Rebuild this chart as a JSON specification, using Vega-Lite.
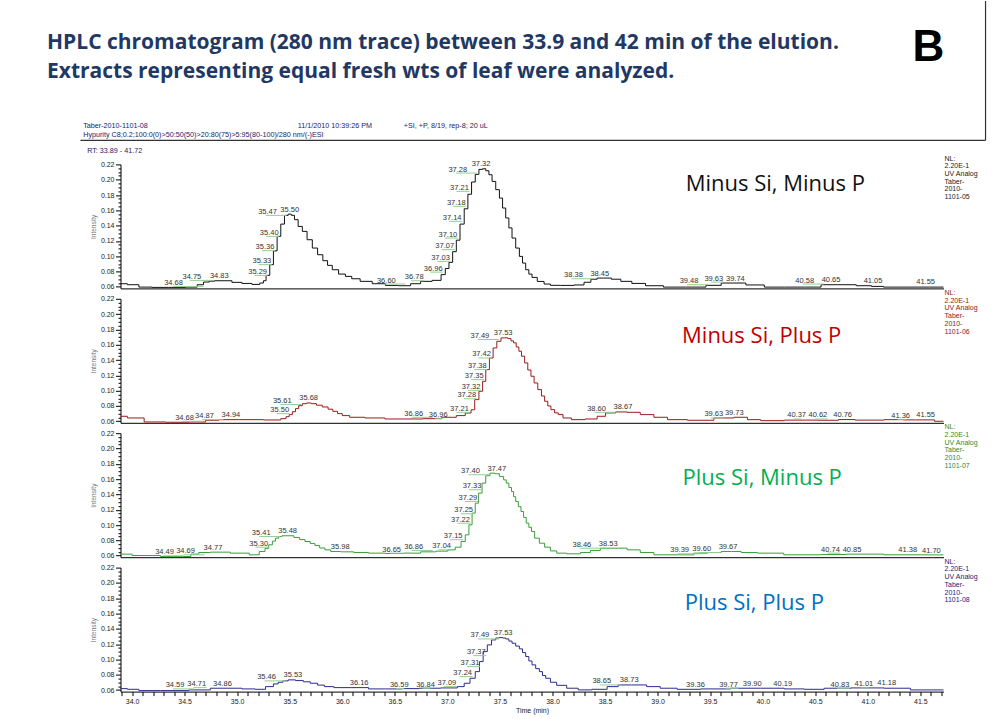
{
  "$schema": "https://vega.github.io/schema/vega-lite/v6.json",
  "padding": {"left": 46.5, "top": 0, "right": 4, "bottom": 6},
  "background": "#ffffff",
  "config": {
    "view": {"stroke": null},
    "text": {"baseline": "alphabetic"},
    "axis": {
      "grid": false,
      "labelFont": "Liberation Sans",
      "labelFontSize": 7,
      "labelColor": "#222222",
      "titleFont": "Liberation Sans",
      "titleFontWeight": "normal",
      "domainColor": "#000000",
      "tickColor": "#000000",
      "tickCount": 500
    }
  },
  "bounds": "flush",
  "spacing": 10.4,
  "resolve": {"scale": {"x": "independent", "y": "independent"}},
  "datasets": {
    "trace": [
      {"p":1,"t":33.89,"v":0.0641},{"p":1,"t":34.02,"v":0.0628},{"p":1,"t":34.11,"v":0.0597},{"p":1,"t":34.27,"v":0.0593},{"p":1,"t":34.43,"v":0.0593},{"p":1,"t":34.59,"v":0.0597},{"p":1,"t":34.65,"v":0.0628},{"p":1,"t":34.71,"v":0.0663},{"p":1,"t":34.76,"v":0.0675},{"p":1,"t":34.81,"v":0.068},{"p":1,"t":34.9,"v":0.068},{"p":1,"t":35.0,"v":0.0659},{"p":1,"t":35.09,"v":0.0645},{"p":1,"t":35.19,"v":0.0632},{"p":1,"t":35.24,"v":0.065},{"p":1,"t":35.26,"v":0.068},{"p":1,"t":35.29,"v":0.075},{"p":1,"t":35.33,"v":0.089},{"p":1,"t":35.36,"v":0.107},{"p":1,"t":35.4,"v":0.126},{"p":1,"t":35.43,"v":0.142},{"p":1,"t":35.47,"v":0.1534},{"p":1,"t":35.5,"v":0.155},{"p":1,"t":35.53,"v":0.1535},{"p":1,"t":35.56,"v":0.1478},{"p":1,"t":35.6,"v":0.139},{"p":1,"t":35.64,"v":0.1325},{"p":1,"t":35.69,"v":0.1216},{"p":1,"t":35.74,"v":0.1107},{"p":1,"t":35.79,"v":0.102},{"p":1,"t":35.84,"v":0.0942},{"p":1,"t":35.88,"v":0.0881},{"p":1,"t":35.93,"v":0.0824},{"p":1,"t":36.0,"v":0.0767},{"p":1,"t":36.06,"v":0.0737},{"p":1,"t":36.12,"v":0.0706},{"p":1,"t":36.22,"v":0.0672},{"p":1,"t":36.35,"v":0.0641},{"p":1,"t":36.47,"v":0.0619},{"p":1,"t":36.6,"v":0.0615},{"p":1,"t":36.7,"v":0.0641},{"p":1,"t":36.79,"v":0.0672},{"p":1,"t":36.92,"v":0.0685},{"p":1,"t":36.96,"v":0.076},{"p":1,"t":37.0,"v":0.084},{"p":1,"t":37.03,"v":0.092},{"p":1,"t":37.07,"v":0.106},{"p":1,"t":37.1,"v":0.121},{"p":1,"t":37.14,"v":0.142},{"p":1,"t":37.18,"v":0.162},{"p":1,"t":37.21,"v":0.181},{"p":1,"t":37.25,"v":0.197},{"p":1,"t":37.28,"v":0.207},{"p":1,"t":37.32,"v":0.2135},{"p":1,"t":37.35,"v":0.2143},{"p":1,"t":37.38,"v":0.2117},{"p":1,"t":37.41,"v":0.2065},{"p":1,"t":37.44,"v":0.1978},{"p":1,"t":37.48,"v":0.187},{"p":1,"t":37.51,"v":0.176},{"p":1,"t":37.54,"v":0.163},{"p":1,"t":37.57,"v":0.15},{"p":1,"t":37.6,"v":0.137},{"p":1,"t":37.63,"v":0.1238},{"p":1,"t":37.67,"v":0.1107},{"p":1,"t":37.7,"v":0.0998},{"p":1,"t":37.73,"v":0.0911},{"p":1,"t":37.76,"v":0.0824},{"p":1,"t":37.79,"v":0.0767},{"p":1,"t":37.82,"v":0.0724},{"p":1,"t":37.89,"v":0.0671},{"p":1,"t":37.95,"v":0.0637},{"p":1,"t":38.01,"v":0.062},{"p":1,"t":38.14,"v":0.0619},{"p":1,"t":38.27,"v":0.0625},{"p":1,"t":38.33,"v":0.066},{"p":1,"t":38.4,"v":0.07},{"p":1,"t":38.45,"v":0.0715},{"p":1,"t":38.52,"v":0.0715},{"p":1,"t":38.6,"v":0.07},{"p":1,"t":38.7,"v":0.0672},{"p":1,"t":38.81,"v":0.0645},{"p":1,"t":38.96,"v":0.0615},{"p":1,"t":39.15,"v":0.0597},{"p":1,"t":39.38,"v":0.0597},{"p":1,"t":39.54,"v":0.062},{"p":1,"t":39.67,"v":0.065},{"p":1,"t":39.76,"v":0.065},{"p":1,"t":39.92,"v":0.0625},{"p":1,"t":40.11,"v":0.0597},{"p":1,"t":40.3,"v":0.0597},{"p":1,"t":40.49,"v":0.0597},{"p":1,"t":40.62,"v":0.0628},{"p":1,"t":40.81,"v":0.0628},{"p":1,"t":40.97,"v":0.0615},{"p":1,"t":41.1,"v":0.0606},{"p":1,"t":41.2,"v":0.0597},{"p":1,"t":41.45,"v":0.0597},{"p":1,"t":41.72,"v":0.0597},

      {"p":2,"t":33.89,"v":0.0665},{"p":2,"t":34.02,"v":0.0643},{"p":2,"t":34.21,"v":0.0591},{"p":2,"t":34.43,"v":0.0587},{"p":2,"t":34.65,"v":0.0591},{"p":2,"t":34.75,"v":0.0613},{"p":2,"t":34.9,"v":0.0621},{"p":2,"t":35.12,"v":0.0621},{"p":2,"t":35.38,"v":0.0617},{"p":2,"t":35.45,"v":0.0634},{"p":2,"t":35.48,"v":0.066},{"p":2,"t":35.51,"v":0.0687},{"p":2,"t":35.54,"v":0.0725},{"p":2,"t":35.57,"v":0.0765},{"p":2,"t":35.6,"v":0.0804},{"p":2,"t":35.64,"v":0.083},{"p":2,"t":35.68,"v":0.0839},{"p":2,"t":35.73,"v":0.083},{"p":2,"t":35.78,"v":0.081},{"p":2,"t":35.84,"v":0.0787},{"p":2,"t":35.89,"v":0.0758},{"p":2,"t":35.93,"v":0.073},{"p":2,"t":35.98,"v":0.07},{"p":2,"t":36.02,"v":0.0674},{"p":2,"t":36.12,"v":0.0652},{"p":2,"t":36.31,"v":0.0643},{"p":2,"t":36.5,"v":0.063},{"p":2,"t":36.69,"v":0.063},{"p":2,"t":36.85,"v":0.0634},{"p":2,"t":37.04,"v":0.0652},{"p":2,"t":37.13,"v":0.0674},{"p":2,"t":37.21,"v":0.0708},{"p":2,"t":37.24,"v":0.075},{"p":2,"t":37.28,"v":0.0883},{"p":2,"t":37.32,"v":0.0992},{"p":2,"t":37.35,"v":0.1122},{"p":2,"t":37.38,"v":0.1275},{"p":2,"t":37.42,"v":0.1427},{"p":2,"t":37.45,"v":0.1558},{"p":2,"t":37.49,"v":0.1645},{"p":2,"t":37.53,"v":0.1689},{"p":2,"t":37.56,"v":0.169},{"p":2,"t":37.59,"v":0.168},{"p":2,"t":37.62,"v":0.165},{"p":2,"t":37.64,"v":0.1624},{"p":2,"t":37.67,"v":0.157},{"p":2,"t":37.69,"v":0.1515},{"p":2,"t":37.72,"v":0.145},{"p":2,"t":37.75,"v":0.1362},{"p":2,"t":37.78,"v":0.127},{"p":2,"t":37.81,"v":0.1188},{"p":2,"t":37.84,"v":0.11},{"p":2,"t":37.88,"v":0.1014},{"p":2,"t":37.91,"v":0.093},{"p":2,"t":37.94,"v":0.0861},{"p":2,"t":37.97,"v":0.08},{"p":2,"t":38.0,"v":0.0752},{"p":2,"t":38.04,"v":0.071},{"p":2,"t":38.07,"v":0.0687},{"p":2,"t":38.13,"v":0.0643},{"p":2,"t":38.23,"v":0.0621},{"p":2,"t":38.39,"v":0.063},{"p":2,"t":38.46,"v":0.0665},{"p":2,"t":38.55,"v":0.0709},{"p":2,"t":38.65,"v":0.0722},{"p":2,"t":38.77,"v":0.0717},{"p":2,"t":38.9,"v":0.0687},{"p":2,"t":39.03,"v":0.0652},{"p":2,"t":39.16,"v":0.0621},{"p":2,"t":39.41,"v":0.0613},{"p":2,"t":39.66,"v":0.0643},{"p":2,"t":39.79,"v":0.0652},{"p":2,"t":39.92,"v":0.0621},{"p":2,"t":40.04,"v":0.0608},{"p":2,"t":40.37,"v":0.0615},{"p":2,"t":40.68,"v":0.0613},{"p":2,"t":40.76,"v":0.0622},{"p":2,"t":41.0,"v":0.0615},{"p":2,"t":41.31,"v":0.0621},{"p":2,"t":41.36,"v":0.0618},{"p":2,"t":41.55,"v":0.0618},{"p":2,"t":41.72,"v":0.06},

      {"p":3,"t":33.89,"v":0.062},{"p":3,"t":34.11,"v":0.0602},{"p":3,"t":34.43,"v":0.0589},{"p":3,"t":34.53,"v":0.0589},{"p":3,"t":34.59,"v":0.062},{"p":3,"t":34.68,"v":0.0641},{"p":3,"t":34.81,"v":0.0646},{"p":3,"t":35.06,"v":0.0633},{"p":3,"t":35.17,"v":0.0611},{"p":3,"t":35.25,"v":0.0655},{"p":3,"t":35.28,"v":0.0695},{"p":3,"t":35.32,"v":0.0742},{"p":3,"t":35.35,"v":0.079},{"p":3,"t":35.38,"v":0.0829},{"p":3,"t":35.41,"v":0.085},{"p":3,"t":35.44,"v":0.086},{"p":3,"t":35.51,"v":0.086},{"p":3,"t":35.57,"v":0.0838},{"p":3,"t":35.62,"v":0.081},{"p":3,"t":35.67,"v":0.0785},{"p":3,"t":35.72,"v":0.0758},{"p":3,"t":35.76,"v":0.0733},{"p":3,"t":35.81,"v":0.07},{"p":3,"t":35.86,"v":0.0676},{"p":3,"t":35.92,"v":0.0655},{"p":3,"t":36.05,"v":0.065},{"p":3,"t":36.17,"v":0.0641},{"p":3,"t":36.33,"v":0.0633},{"p":3,"t":36.49,"v":0.0628},{"p":3,"t":36.68,"v":0.0633},{"p":3,"t":36.81,"v":0.065},{"p":3,"t":36.97,"v":0.0659},{"p":3,"t":37.04,"v":0.0676},{"p":3,"t":37.11,"v":0.0711},{"p":3,"t":37.15,"v":0.0785},{"p":3,"t":37.19,"v":0.0872},{"p":3,"t":37.22,"v":0.1003},{"p":3,"t":37.25,"v":0.1156},{"p":3,"t":37.28,"v":0.1286},{"p":3,"t":37.31,"v":0.1417},{"p":3,"t":37.35,"v":0.1548},{"p":3,"t":37.38,"v":0.1644},{"p":3,"t":37.43,"v":0.1678},{"p":3,"t":37.47,"v":0.167},{"p":3,"t":37.52,"v":0.1635},{"p":3,"t":37.55,"v":0.159},{"p":3,"t":37.57,"v":0.1548},{"p":3,"t":37.6,"v":0.149},{"p":3,"t":37.62,"v":0.1439},{"p":3,"t":37.64,"v":0.137},{"p":3,"t":37.66,"v":0.1308},{"p":3,"t":37.69,"v":0.124},{"p":3,"t":37.71,"v":0.1177},{"p":3,"t":37.74,"v":0.11},{"p":3,"t":37.76,"v":0.1025},{"p":3,"t":37.79,"v":0.097},{"p":3,"t":37.81,"v":0.0916},{"p":3,"t":37.85,"v":0.0829},{"p":3,"t":37.9,"v":0.0763},{"p":3,"t":37.95,"v":0.0711},{"p":3,"t":38.01,"v":0.0662},{"p":3,"t":38.07,"v":0.0633},{"p":3,"t":38.2,"v":0.0624},{"p":3,"t":38.33,"v":0.0641},{"p":3,"t":38.39,"v":0.0668},{"p":3,"t":38.52,"v":0.0698},{"p":3,"t":38.65,"v":0.0698},{"p":3,"t":38.77,"v":0.0676},{"p":3,"t":38.9,"v":0.0641},{"p":3,"t":39.03,"v":0.0611},{"p":3,"t":39.28,"v":0.0611},{"p":3,"t":39.41,"v":0.0633},{"p":3,"t":39.54,"v":0.0641},{"p":3,"t":39.67,"v":0.0655},{"p":3,"t":39.73,"v":0.0655},{"p":3,"t":39.86,"v":0.0641},{"p":3,"t":40.04,"v":0.0633},{"p":3,"t":40.36,"v":0.0611},{"p":3,"t":40.74,"v":0.0615},{"p":3,"t":40.85,"v":0.062},{"p":3,"t":40.99,"v":0.062},{"p":3,"t":41.31,"v":0.0611},{"p":3,"t":41.72,"v":0.0611},

      {"p":4,"t":33.89,"v":0.0619},{"p":4,"t":34.02,"v":0.061},{"p":4,"t":34.11,"v":0.0593},{"p":4,"t":34.43,"v":0.0593},{"p":4,"t":34.65,"v":0.0602},{"p":4,"t":34.84,"v":0.0624},{"p":4,"t":34.97,"v":0.0624},{"p":4,"t":35.12,"v":0.0615},{"p":4,"t":35.22,"v":0.061},{"p":4,"t":35.32,"v":0.0645},{"p":4,"t":35.37,"v":0.068},{"p":4,"t":35.41,"v":0.0702},{"p":4,"t":35.46,"v":0.072},{"p":4,"t":35.51,"v":0.0733},{"p":4,"t":35.6,"v":0.0724},{"p":4,"t":35.66,"v":0.0708},{"p":4,"t":35.73,"v":0.0689},{"p":4,"t":35.8,"v":0.0665},{"p":4,"t":35.86,"v":0.0645},{"p":4,"t":35.98,"v":0.0632},{"p":4,"t":36.17,"v":0.0632},{"p":4,"t":36.33,"v":0.0615},{"p":4,"t":36.49,"v":0.0615},{"p":4,"t":36.65,"v":0.0619},{"p":4,"t":36.81,"v":0.0624},{"p":4,"t":37.06,"v":0.0628},{"p":4,"t":37.13,"v":0.0645},{"p":4,"t":37.19,"v":0.0689},{"p":4,"t":37.24,"v":0.0754},{"p":4,"t":37.29,"v":0.0841},{"p":4,"t":37.32,"v":0.0972},{"p":4,"t":37.36,"v":0.1103},{"p":4,"t":37.4,"v":0.119},{"p":4,"t":37.44,"v":0.1255},{"p":4,"t":37.48,"v":0.128},{"p":4,"t":37.51,"v":0.1286},{"p":4,"t":37.54,"v":0.128},{"p":4,"t":37.57,"v":0.1268},{"p":4,"t":37.6,"v":0.124},{"p":4,"t":37.63,"v":0.1212},{"p":4,"t":37.67,"v":0.1175},{"p":4,"t":37.7,"v":0.1138},{"p":4,"t":37.73,"v":0.109},{"p":4,"t":37.76,"v":0.1038},{"p":4,"t":37.79,"v":0.098},{"p":4,"t":37.82,"v":0.0929},{"p":4,"t":37.86,"v":0.088},{"p":4,"t":37.89,"v":0.0841},{"p":4,"t":37.92,"v":0.079},{"p":4,"t":37.95,"v":0.0754},{"p":4,"t":38.01,"v":0.0702},{"p":4,"t":38.07,"v":0.0662},{"p":4,"t":38.2,"v":0.0624},{"p":4,"t":38.29,"v":0.0602},{"p":4,"t":38.46,"v":0.061},{"p":4,"t":38.58,"v":0.0645},{"p":4,"t":38.67,"v":0.0667},{"p":4,"t":38.83,"v":0.0667},{"p":4,"t":38.96,"v":0.0645},{"p":4,"t":39.09,"v":0.0624},{"p":4,"t":39.28,"v":0.061},{"p":4,"t":39.54,"v":0.0615},{"p":4,"t":39.85,"v":0.0624},{"p":4,"t":40.11,"v":0.0624},{"p":4,"t":40.3,"v":0.0615},{"p":4,"t":40.49,"v":0.061},{"p":4,"t":40.68,"v":0.0624},{"p":4,"t":41.0,"v":0.0628},{"p":4,"t":41.31,"v":0.0624},{"p":4,"t":41.5,"v":0.0602},{"p":4,"t":41.72,"v":0.0602}
    ],
    "apex": [
      {"p":1,"t":34.83,"v":0.068},{"p":1,"t":35.5,"v":0.155},{"p":1,"t":37.32,"v":0.2143},{"p":1,"t":38.45,"v":0.0715},{"p":1,"t":39.74,"v":0.065},{"p":1,"t":40.65,"v":0.0637},{"p":1,"t":41.05,"v":0.0618},{"p":1,"t":41.55,"v":0.0602},
      {"p":2,"t":34.94,"v":0.0621},{"p":2,"t":35.68,"v":0.0839},{"p":2,"t":37.53,"v":0.169},{"p":2,"t":38.67,"v":0.0722},{"p":2,"t":39.73,"v":0.065},{"p":2,"t":40.76,"v":0.0625},{"p":2,"t":41.55,"v":0.0625},
      {"p":3,"t":34.77,"v":0.0641},{"p":3,"t":35.48,"v":0.086},{"p":3,"t":35.98,"v":0.065},{"p":3,"t":37.47,"v":0.168},{"p":3,"t":38.53,"v":0.07},{"p":3,"t":39.67,"v":0.0655},{"p":3,"t":40.85,"v":0.062},{"p":3,"t":41.38,"v":0.0611},
      {"p":4,"t":34.86,"v":0.0624},{"p":4,"t":35.53,"v":0.0733},{"p":4,"t":36.16,"v":0.0632},{"p":4,"t":37.53,"v":0.1286},{"p":4,"t":38.73,"v":0.0667},{"p":4,"t":39.36,"v":0.061},{"p":4,"t":39.9,"v":0.0624},{"p":4,"t":40.19,"v":0.0624},{"p":4,"t":41.18,"v":0.0628}
    ],
    "mid": [
      {"p":2,"t":36.96,"v":0.064},{"p":2,"t":40.37,"v":0.063},{"p":2,"t":41.36,"v":0.0625},
      {"p":4,"t":36.59,"v":0.0619},{"p":4,"t":36.84,"v":0.0624},{"p":4,"t":41.01,"v":0.0628}
    ],
    "near": [
      {"p":1,"t":35.29,"v":0.075},{"p":1,"t":35.33,"v":0.089},{"p":1,"t":35.36,"v":0.1073},{"p":1,"t":35.4,"v":0.126},{"p":1,"t":36.78,"v":0.068},{"p":1,"t":36.96,"v":0.0793},{"p":1,"t":37.03,"v":0.0933},{"p":1,"t":37.07,"v":0.1086},{"p":1,"t":37.1,"v":0.1238},{"p":1,"t":37.14,"v":0.1456},{"p":1,"t":37.18,"v":0.1652},{"p":1,"t":37.21,"v":0.1848},{"p":1,"t":39.63,"v":0.0663},
      {"p":2,"t":35.5,"v":0.07},{"p":2,"t":37.21,"v":0.0717},{"p":2,"t":37.28,"v":0.0894},{"p":2,"t":37.32,"v":0.1005},{"p":2,"t":37.35,"v":0.1144},{"p":2,"t":37.38,"v":0.1275},{"p":2,"t":37.42,"v":0.1427},{"p":2,"t":39.63,"v":0.0643},{"p":2,"t":40.62,"v":0.063},
      {"p":3,"t":35.3,"v":0.0711},{"p":3,"t":37.04,"v":0.0676},{"p":3,"t":37.15,"v":0.0808},{"p":3,"t":37.22,"v":0.1024},{"p":3,"t":37.25,"v":0.1147},{"p":3,"t":37.29,"v":0.1308},{"p":3,"t":37.33,"v":0.1461},{"p":3,"t":40.74,"v":0.0633},{"p":3,"t":41.7,"v":0.0611},
      {"p":4,"t":34.71,"v":0.0632},{"p":4,"t":37.09,"v":0.0645},{"p":4,"t":37.24,"v":0.0776},{"p":4,"t":37.31,"v":0.0907},{"p":4,"t":37.37,"v":0.105},{"p":4,"t":39.77,"v":0.0624},{"p":4,"t":40.83,"v":0.0624}
    ],
    "far": [
      {"p":1,"t":34.75,"v":0.0685},{"p":1,"t":35.47,"v":0.1534},{"p":1,"t":36.6,"v":0.0637},{"p":1,"t":37.28,"v":0.2087},{"p":1,"t":38.38,"v":0.0706},{"p":1,"t":39.48,"v":0.0628},{"p":1,"t":40.58,"v":0.0637},
      {"p":2,"t":34.68,"v":0.06},{"p":2,"t":34.87,"v":0.0621},{"p":2,"t":35.61,"v":0.0818},{"p":2,"t":36.86,"v":0.0652},{"p":2,"t":37.49,"v":0.1668},{"p":2,"t":38.6,"v":0.0717},
      {"p":3,"t":34.49,"v":0.0598},{"p":3,"t":34.69,"v":0.0611},{"p":3,"t":35.41,"v":0.085},{"p":3,"t":36.65,"v":0.0633},{"p":3,"t":36.86,"v":0.0668},{"p":3,"t":37.4,"v":0.1657},{"p":3,"t":38.46,"v":0.0698},{"p":3,"t":39.39,"v":0.0624},{"p":3,"t":39.6,"v":0.0641},
      {"p":4,"t":34.59,"v":0.0615},{"p":4,"t":35.46,"v":0.072},{"p":4,"t":37.49,"v":0.1268},{"p":4,"t":38.65,"v":0.0667}
    ],
    "vfar": [
      {"p":1,"t":34.68,"v":0.0606}
    ]
  },
  "vconcat": [
    {
      "width": 823,
      "height": 153,
      "data": {"values": [{}]},
      "layer": [
        {
          "mark": {"type": "text", "text": "HPLC chromatogram (280 nm trace) between 33.9 and 42 min of the elution.", "align": "left", "baseline": "alphabetic", "font": "Open Sans", "fontWeight": "bold", "fontSize": 21, "color": "#1F3864"},
          "encoding": {
            "x": {"datum": 33.191, "type": "quantitative", "scale": {"domain": [33.89, 41.72], "nice": false, "zero": false}, "axis": null},
            "y": {"datum": 48, "type": "quantitative", "scale": {"domain": [0, 153], "reverse": true, "nice": false, "zero": false}, "axis": null}
          }
        },
        {
          "mark": {"type": "text", "text": "Extracts representing equal fresh wts of leaf were analyzed.", "align": "left", "baseline": "alphabetic", "font": "Open Sans", "fontWeight": "bold", "fontSize": 21, "color": "#1F3864"},
          "encoding": {"x": {"datum": 33.191, "type": "quantitative"}, "y": {"datum": 77, "type": "quantitative"}}
        },
        {
          "mark": {"type": "text", "text": "B", "align": "left", "baseline": "alphabetic", "font": "Liberation Sans", "fontWeight": "bold", "fontSize": 44, "color": "#000000"},
          "encoding": {"x": {"datum": 41.426, "type": "quantitative"}, "y": {"datum": 60, "type": "quantitative"}}
        },
        {
          "mark": {"type": "text", "text": "Taber-2010-1101-08", "align": "left", "baseline": "alphabetic", "font": "Liberation Sans", "fontSize": 7.2, "color": "#22226E"},
          "encoding": {"x": {"datum": 33.535, "type": "quantitative"}, "y": {"datum": 126.7, "type": "quantitative"}}
        },
        {
          "mark": {"type": "text", "text": "11/1/2010 10:39:26 PM", "align": "left", "baseline": "alphabetic", "font": "Liberation Sans", "fontSize": 7.2, "color": "#22226E"},
          "encoding": {"x": {"datum": 35.577, "type": "quantitative"}, "y": {"datum": 126.7, "type": "quantitative"}}
        },
        {
          "mark": {"type": "text", "text": "+SI, +P, 8/19, rep-8; 20 uL", "align": "left", "baseline": "alphabetic", "font": "Liberation Sans", "fontSize": 7.2, "color": "#22226E"},
          "encoding": {"x": {"datum": 36.586, "type": "quantitative"}, "y": {"datum": 126.7, "type": "quantitative"}}
        },
        {
          "mark": {"type": "text", "text": "Hypurity C8;0.2;100:0(0)>50:50(50)>20:80(75)>5:95(80-100)/280 nm/(-)ESI", "align": "left", "baseline": "alphabetic", "font": "Liberation Sans", "fontSize": 7.2, "color": "#22226E"},
          "encoding": {"x": {"datum": 33.535, "type": "quantitative"}, "y": {"datum": 136.2, "type": "quantitative"}}
        },
        {
          "mark": {"type": "rule", "color": "#333333", "strokeWidth": 1.2},
          "encoding": {"x": {"datum": 33.509, "type": "quantitative"}, "x2": {"datum": 42.12}, "y": {"datum": 139.3, "type": "quantitative"}}
        },
        {
          "mark": {"type": "rule", "color": "#333333", "strokeWidth": 1.2},
          "encoding": {"x": {"datum": 42.12, "type": "quantitative"}, "y": {"datum": 0, "type": "quantitative"}, "y2": {"datum": 139.3}}
        },
        {
          "mark": {"type": "text", "text": "RT: 33.89 - 41.72", "align": "left", "baseline": "alphabetic", "font": "Liberation Sans", "fontSize": 7.2, "color": "#22226E"},
          "encoding": {"x": {"datum": 33.573, "type": "quantitative"}, "y": {"datum": 151.7, "type": "quantitative"}}
        }
      ]
    },
    {
      "width": 823,
      "height": 124,
      "layer": [
        {
          "data": {"name": "trace"},
          "transform": [{"filter": "datum.p == 1"}],
          "mark": {"type": "line", "interpolate": "step", "color": "#111111", "strokeWidth": 1},
          "encoding": {
            "x": {"field": "t", "type": "quantitative", "scale": {"domain": [33.89, 41.72], "nice": false, "zero": false}, "axis": {"ticks": false, "labels": false, "title": null}},
            "y": {"field": "v", "type": "quantitative", "scale": {"domain": [0.058, 0.22], "nice": false, "zero": false},
              "axis": {"values": [0.06,0.065,0.07,0.075,0.08,0.085,0.09,0.095,0.1,0.105,0.11,0.115,0.12,0.125,0.13,0.135,0.14,0.145,0.15,0.155,0.16,0.165,0.17,0.175,0.18,0.185,0.19,0.195,0.2,0.205,0.21,0.215,0.22],
                "tickCount": 500,
                "labelExpr": "abs(datum.value*50-round(datum.value*50))<0.001 ? format(datum.value,'.2f') : ''",
                "tickSize": {"condition": {"test": "abs(datum.value*50-round(datum.value*50))<0.001", "value": 5}, "value": 2.5},
                "labelOverlap": false, "labelPadding": 1.5, "title": "Intensity", "titleFontSize": 6.5, "titleColor": "#7a7a7a", "titlePadding": 4}}
          }
        },
        {
          "data": {"name": "near"},
          "transform": [{"filter": "datum.p == 1"}],
          "mark": {"type": "rule", "color": "#8fd18f", "strokeWidth": 1, "xOffset": -13},
          "encoding": {"x": {"field": "t", "type": "quantitative"}, "x2": {"field": "t"}, "y": {"field": "v", "type": "quantitative"}}
        },
        {
          "data": {"name": "far"},
          "transform": [{"filter": "datum.p == 1"}],
          "mark": {"type": "rule", "color": "#8fd18f", "strokeWidth": 1, "xOffset": -21},
          "encoding": {"x": {"field": "t", "type": "quantitative"}, "x2": {"field": "t"}, "y": {"field": "v", "type": "quantitative"}}
        },
        {
          "data": {"name": "vfar"},
          "transform": [{"filter": "datum.p == 1"}],
          "mark": {"type": "rule", "color": "#8fd18f", "strokeWidth": 1, "xOffset": -30},
          "encoding": {"x": {"field": "t", "type": "quantitative"}, "x2": {"field": "t"}, "y": {"field": "v", "type": "quantitative"}}
        },
        {
          "data": {"name": "near"},
          "transform": [{"filter": "datum.p == 1"}],
          "mark": {"type": "text", "baseline": "alphabetic", "dx": -10, "dy": -1.5, "font": "Liberation Sans", "fontSize": 7.5, "color": "#333333"},
          "encoding": {"x": {"field": "t", "type": "quantitative"}, "y": {"field": "v", "type": "quantitative"}, "text": {"field": "t", "type": "quantitative", "format": ".2f"}}
        },
        {
          "data": {"name": "far"},
          "transform": [{"filter": "datum.p == 1"}],
          "mark": {"type": "text", "baseline": "alphabetic", "dx": -19, "dy": -1.5, "font": "Liberation Sans", "fontSize": 7.5, "color": "#333333"},
          "encoding": {"x": {"field": "t", "type": "quantitative"}, "y": {"field": "v", "type": "quantitative"}, "text": {"field": "t", "type": "quantitative", "format": ".2f"}}
        },
        {
          "data": {"name": "vfar"},
          "transform": [{"filter": "datum.p == 1"}],
          "mark": {"type": "text", "baseline": "alphabetic", "dx": -30, "dy": -1.5, "font": "Liberation Sans", "fontSize": 7.5, "color": "#333333"},
          "encoding": {"x": {"field": "t", "type": "quantitative"}, "y": {"field": "v", "type": "quantitative"}, "text": {"field": "t", "type": "quantitative", "format": ".2f"}}
        },
        {
          "data": {"name": "apex"},
          "transform": [{"filter": "datum.p == 1"}],
          "mark": {"type": "text", "baseline": "alphabetic", "dy": -2.5, "font": "Liberation Sans", "fontSize": 7.5, "color": "#333333"},
          "encoding": {"x": {"field": "t", "type": "quantitative"}, "y": {"field": "v", "type": "quantitative"}, "text": {"field": "t", "type": "quantitative", "format": ".2f"}}
        },
        {
          "data": {"values": [{}]},
          "mark": {"type": "text", "text": "Minus Si, Minus P", "baseline": "alphabetic", "font": "Open Sans", "fontSize": 22, "color": "#111111"},
          "encoding": {"x": {"datum": 40.12, "type": "quantitative"}, "y": {"datum": 0.1848, "type": "quantitative"}}
        },
        {
          "data": {"values": [{}]},
          "mark": {"type": "text", "text": ["NL:", "2.20E-1", "UV Analog", "Taber-", "2010-", "1101-05"], "align": "left", "baseline": "top", "lineHeight": 7.7, "font": "Liberation Sans", "fontSize": 7, "color": "#222222"},
          "encoding": {"x": {"datum": 41.73, "type": "quantitative"}, "y": {"datum": 0.2328, "type": "quantitative"}}
        }
      ]
    },
    {
      "width": 823,
      "height": 124,
      "layer": [
        {
          "data": {"name": "trace"},
          "transform": [{"filter": "datum.p == 2"}],
          "mark": {"type": "line", "interpolate": "step", "color": "#9B1B1B", "strokeWidth": 1},
          "encoding": {
            "x": {"field": "t", "type": "quantitative", "scale": {"domain": [33.89, 41.72], "nice": false, "zero": false}, "axis": {"ticks": false, "labels": false, "title": null}},
            "y": {"field": "v", "type": "quantitative", "scale": {"domain": [0.058, 0.22], "nice": false, "zero": false},
              "axis": {"values": [0.06,0.065,0.07,0.075,0.08,0.085,0.09,0.095,0.1,0.105,0.11,0.115,0.12,0.125,0.13,0.135,0.14,0.145,0.15,0.155,0.16,0.165,0.17,0.175,0.18,0.185,0.19,0.195,0.2,0.205,0.21,0.215,0.22],
                "tickCount": 500,
                "labelExpr": "abs(datum.value*50-round(datum.value*50))<0.001 ? format(datum.value,'.2f') : ''",
                "tickSize": {"condition": {"test": "abs(datum.value*50-round(datum.value*50))<0.001", "value": 5}, "value": 2.5},
                "labelOverlap": false, "labelPadding": 1.5, "title": "Intensity", "titleFontSize": 6.5, "titleColor": "#7a7a7a", "titlePadding": 4}}
          }
        },
        {
          "data": {"name": "mid"},
          "transform": [{"filter": "datum.p == 2"}],
          "mark": {"type": "rule", "color": "#8fd18f", "strokeWidth": 1, "xOffset": -8},
          "encoding": {"x": {"field": "t", "type": "quantitative"}, "x2": {"field": "t"}, "y": {"field": "v", "type": "quantitative"}}
        },
        {
          "data": {"name": "near"},
          "transform": [{"filter": "datum.p == 2"}],
          "mark": {"type": "rule", "color": "#8fd18f", "strokeWidth": 1, "xOffset": -13},
          "encoding": {"x": {"field": "t", "type": "quantitative"}, "x2": {"field": "t"}, "y": {"field": "v", "type": "quantitative"}}
        },
        {
          "data": {"name": "far"},
          "transform": [{"filter": "datum.p == 2"}],
          "mark": {"type": "rule", "color": "#8fd18f", "strokeWidth": 1, "xOffset": -21},
          "encoding": {"x": {"field": "t", "type": "quantitative"}, "x2": {"field": "t"}, "y": {"field": "v", "type": "quantitative"}}
        },
        {
          "data": {"name": "mid"},
          "transform": [{"filter": "datum.p == 2"}],
          "mark": {"type": "text", "baseline": "alphabetic", "dx": -5, "dy": -1.5, "font": "Liberation Sans", "fontSize": 7.5, "color": "#333333"},
          "encoding": {"x": {"field": "t", "type": "quantitative"}, "y": {"field": "v", "type": "quantitative"}, "text": {"field": "t", "type": "quantitative", "format": ".2f"}}
        },
        {
          "data": {"name": "near"},
          "transform": [{"filter": "datum.p == 2"}],
          "mark": {"type": "text", "baseline": "alphabetic", "dx": -10, "dy": -1.5, "font": "Liberation Sans", "fontSize": 7.5, "color": "#333333"},
          "encoding": {"x": {"field": "t", "type": "quantitative"}, "y": {"field": "v", "type": "quantitative"}, "text": {"field": "t", "type": "quantitative", "format": ".2f"}}
        },
        {
          "data": {"name": "far"},
          "transform": [{"filter": "datum.p == 2"}],
          "mark": {"type": "text", "baseline": "alphabetic", "dx": -19, "dy": -1.5, "font": "Liberation Sans", "fontSize": 7.5, "color": "#333333"},
          "encoding": {"x": {"field": "t", "type": "quantitative"}, "y": {"field": "v", "type": "quantitative"}, "text": {"field": "t", "type": "quantitative", "format": ".2f"}}
        },
        {
          "data": {"name": "apex"},
          "transform": [{"filter": "datum.p == 2"}],
          "mark": {"type": "text", "baseline": "alphabetic", "dy": -2.5, "font": "Liberation Sans", "fontSize": 7.5, "color": "#333333"},
          "encoding": {"x": {"field": "t", "type": "quantitative"}, "y": {"field": "v", "type": "quantitative"}, "text": {"field": "t", "type": "quantitative", "format": ".2f"}}
        },
        {
          "data": {"values": [{}]},
          "mark": {"type": "text", "text": "Minus Si, Plus P", "baseline": "alphabetic", "font": "Open Sans", "fontSize": 22, "color": "#C00000"},
          "encoding": {"x": {"datum": 39.99, "type": "quantitative"}, "y": {"datum": 0.1623, "type": "quantitative"}}
        },
        {
          "data": {"values": [{}]},
          "mark": {"type": "text", "text": ["NL:", "2.20E-1", "UV Analog", "Taber-", "2010-", "1101-06"], "align": "left", "baseline": "top", "lineHeight": 7.7, "font": "Liberation Sans", "fontSize": 7, "color": "#8B1A1A"},
          "encoding": {"x": {"datum": 41.73, "type": "quantitative"}, "y": {"datum": 0.2328, "type": "quantitative"}}
        }
      ]
    },
    {
      "width": 823,
      "height": 124,
      "layer": [
        {
          "data": {"name": "trace"},
          "transform": [{"filter": "datum.p == 3"}],
          "mark": {"type": "line", "interpolate": "step", "color": "#3A9E3A", "strokeWidth": 1},
          "encoding": {
            "x": {"field": "t", "type": "quantitative", "scale": {"domain": [33.89, 41.72], "nice": false, "zero": false}, "axis": {"ticks": false, "labels": false, "title": null}},
            "y": {"field": "v", "type": "quantitative", "scale": {"domain": [0.058, 0.22], "nice": false, "zero": false},
              "axis": {"values": [0.06,0.065,0.07,0.075,0.08,0.085,0.09,0.095,0.1,0.105,0.11,0.115,0.12,0.125,0.13,0.135,0.14,0.145,0.15,0.155,0.16,0.165,0.17,0.175,0.18,0.185,0.19,0.195,0.2,0.205,0.21,0.215,0.22],
                "tickCount": 500,
                "labelExpr": "abs(datum.value*50-round(datum.value*50))<0.001 ? format(datum.value,'.2f') : ''",
                "tickSize": {"condition": {"test": "abs(datum.value*50-round(datum.value*50))<0.001", "value": 5}, "value": 2.5},
                "labelOverlap": false, "labelPadding": 1.5, "title": "Intensity", "titleFontSize": 6.5, "titleColor": "#7a7a7a", "titlePadding": 4}}
          }
        },
        {
          "data": {"name": "near"},
          "transform": [{"filter": "datum.p == 3"}],
          "mark": {"type": "rule", "color": "#8fd18f", "strokeWidth": 1, "xOffset": -13},
          "encoding": {"x": {"field": "t", "type": "quantitative"}, "x2": {"field": "t"}, "y": {"field": "v", "type": "quantitative"}}
        },
        {
          "data": {"name": "far"},
          "transform": [{"filter": "datum.p == 3"}],
          "mark": {"type": "rule", "color": "#8fd18f", "strokeWidth": 1, "xOffset": -21},
          "encoding": {"x": {"field": "t", "type": "quantitative"}, "x2": {"field": "t"}, "y": {"field": "v", "type": "quantitative"}}
        },
        {
          "data": {"name": "near"},
          "transform": [{"filter": "datum.p == 3"}],
          "mark": {"type": "text", "baseline": "alphabetic", "dx": -10, "dy": -1.5, "font": "Liberation Sans", "fontSize": 7.5, "color": "#333333"},
          "encoding": {"x": {"field": "t", "type": "quantitative"}, "y": {"field": "v", "type": "quantitative"}, "text": {"field": "t", "type": "quantitative", "format": ".2f"}}
        },
        {
          "data": {"name": "far"},
          "transform": [{"filter": "datum.p == 3"}],
          "mark": {"type": "text", "baseline": "alphabetic", "dx": -19, "dy": -1.5, "font": "Liberation Sans", "fontSize": 7.5, "color": "#333333"},
          "encoding": {"x": {"field": "t", "type": "quantitative"}, "y": {"field": "v", "type": "quantitative"}, "text": {"field": "t", "type": "quantitative", "format": ".2f"}}
        },
        {
          "data": {"name": "apex"},
          "transform": [{"filter": "datum.p == 3"}],
          "mark": {"type": "text", "baseline": "alphabetic", "dy": -2.5, "font": "Liberation Sans", "fontSize": 7.5, "color": "#333333"},
          "encoding": {"x": {"field": "t", "type": "quantitative"}, "y": {"field": "v", "type": "quantitative"}, "text": {"field": "t", "type": "quantitative", "format": ".2f"}}
        },
        {
          "data": {"values": [{}]},
          "mark": {"type": "text", "text": "Plus Si, Minus P", "baseline": "alphabetic", "font": "Open Sans", "fontSize": 22, "color": "#00B050"},
          "encoding": {"x": {"datum": 39.995, "type": "quantitative"}, "y": {"datum": 0.1527, "type": "quantitative"}}
        },
        {
          "data": {"values": [{}]},
          "mark": {"type": "text", "text": ["NL:", "2.20E-1", "UV Analog", "Taber-", "2010-", "1101-07"], "align": "left", "baseline": "top", "lineHeight": 7.7, "font": "Liberation Sans", "fontSize": 7, "color": "#2E8B2E"},
          "encoding": {"x": {"datum": 41.73, "type": "quantitative"}, "y": {"datum": 0.2328, "type": "quantitative"}}
        }
      ]
    },
    {
      "width": 823,
      "height": 124,
      "layer": [
        {
          "data": {"name": "trace"},
          "transform": [{"filter": "datum.p == 4"}],
          "mark": {"type": "line", "interpolate": "step", "color": "#2B2B90", "strokeWidth": 1},
          "encoding": {
            "x": {"field": "t", "type": "quantitative", "scale": {"domain": [33.89, 41.72], "nice": false, "zero": false},
              "axis": {"values": [33.9,34.0,34.1,34.2,34.3,34.4,34.5,34.6,34.7,34.8,34.9,35.0,35.1,35.2,35.3,35.4,35.5,35.6,35.7,35.8,35.9,36.0,36.1,36.2,36.3,36.4,36.5,36.6,36.7,36.8,36.9,37.0,37.1,37.2,37.3,37.4,37.5,37.6,37.7,37.8,37.9,38.0,38.1,38.2,38.3,38.4,38.5,38.6,38.7,38.8,38.9,39.0,39.1,39.2,39.3,39.4,39.5,39.6,39.7,39.8,39.9,40.0,40.1,40.2,40.3,40.4,40.5,40.6,40.7,40.8,40.9,41.0,41.1,41.2,41.3,41.4,41.5,41.6,41.7],
                "tickCount": 500,
                "labelExpr": "abs(datum.value*2-round(datum.value*2))<0.001 ? format(datum.value,'.1f') : ''",
                "tickSize": 4, "labelOverlap": false, "labelFlush": false, "labelPadding": 2,
                "title": "Time (min)", "titleFontSize": 7, "titleColor": "#222222", "titlePadding": 1.5}},
            "y": {"field": "v", "type": "quantitative", "scale": {"domain": [0.058, 0.22], "nice": false, "zero": false},
              "axis": {"values": [0.06,0.065,0.07,0.075,0.08,0.085,0.09,0.095,0.1,0.105,0.11,0.115,0.12,0.125,0.13,0.135,0.14,0.145,0.15,0.155,0.16,0.165,0.17,0.175,0.18,0.185,0.19,0.195,0.2,0.205,0.21,0.215,0.22],
                "tickCount": 500,
                "labelExpr": "abs(datum.value*50-round(datum.value*50))<0.001 ? format(datum.value,'.2f') : ''",
                "tickSize": {"condition": {"test": "abs(datum.value*50-round(datum.value*50))<0.001", "value": 5}, "value": 2.5},
                "labelOverlap": false, "labelPadding": 1.5, "title": "Intensity", "titleFontSize": 6.5, "titleColor": "#7a7a7a", "titlePadding": 4}}
          }
        },
        {
          "data": {"name": "mid"},
          "transform": [{"filter": "datum.p == 4"}],
          "mark": {"type": "rule", "color": "#8fd18f", "strokeWidth": 1, "xOffset": -8},
          "encoding": {"x": {"field": "t", "type": "quantitative"}, "x2": {"field": "t"}, "y": {"field": "v", "type": "quantitative"}}
        },
        {
          "data": {"name": "near"},
          "transform": [{"filter": "datum.p == 4"}],
          "mark": {"type": "rule", "color": "#8fd18f", "strokeWidth": 1, "xOffset": -13},
          "encoding": {"x": {"field": "t", "type": "quantitative"}, "x2": {"field": "t"}, "y": {"field": "v", "type": "quantitative"}}
        },
        {
          "data": {"name": "far"},
          "transform": [{"filter": "datum.p == 4"}],
          "mark": {"type": "rule", "color": "#8fd18f", "strokeWidth": 1, "xOffset": -21},
          "encoding": {"x": {"field": "t", "type": "quantitative"}, "x2": {"field": "t"}, "y": {"field": "v", "type": "quantitative"}}
        },
        {
          "data": {"name": "mid"},
          "transform": [{"filter": "datum.p == 4"}],
          "mark": {"type": "text", "baseline": "alphabetic", "dx": -5, "dy": -1.5, "font": "Liberation Sans", "fontSize": 7.5, "color": "#333333"},
          "encoding": {"x": {"field": "t", "type": "quantitative"}, "y": {"field": "v", "type": "quantitative"}, "text": {"field": "t", "type": "quantitative", "format": ".2f"}}
        },
        {
          "data": {"name": "near"},
          "transform": [{"filter": "datum.p == 4"}],
          "mark": {"type": "text", "baseline": "alphabetic", "dx": -10, "dy": -1.5, "font": "Liberation Sans", "fontSize": 7.5, "color": "#333333"},
          "encoding": {"x": {"field": "t", "type": "quantitative"}, "y": {"field": "v", "type": "quantitative"}, "text": {"field": "t", "type": "quantitative", "format": ".2f"}}
        },
        {
          "data": {"name": "far"},
          "transform": [{"filter": "datum.p == 4"}],
          "mark": {"type": "text", "baseline": "alphabetic", "dx": -19, "dy": -1.5, "font": "Liberation Sans", "fontSize": 7.5, "color": "#333333"},
          "encoding": {"x": {"field": "t", "type": "quantitative"}, "y": {"field": "v", "type": "quantitative"}, "text": {"field": "t", "type": "quantitative", "format": ".2f"}}
        },
        {
          "data": {"name": "apex"},
          "transform": [{"filter": "datum.p == 4"}],
          "mark": {"type": "text", "baseline": "alphabetic", "dy": -2.5, "font": "Liberation Sans", "fontSize": 7.5, "color": "#333333"},
          "encoding": {"x": {"field": "t", "type": "quantitative"}, "y": {"field": "v", "type": "quantitative"}, "text": {"field": "t", "type": "quantitative", "format": ".2f"}}
        },
        {
          "data": {"values": [{}]},
          "mark": {"type": "text", "text": "Plus Si, Plus P", "baseline": "alphabetic", "font": "Open Sans", "fontSize": 22, "color": "#0070C0"},
          "encoding": {"x": {"datum": 39.92, "type": "quantitative"}, "y": {"datum": 0.1648, "type": "quantitative"}}
        },
        {
          "data": {"values": [{}]},
          "mark": {"type": "text", "text": ["NL:", "2.20E-1", "UV Analog", "Taber-", "2010-", "1101-08"], "align": "left", "baseline": "top", "lineHeight": 7.7, "font": "Liberation Sans", "fontSize": 7, "color": "#22227A"},
          "encoding": {"x": {"datum": 41.73, "type": "quantitative"}, "y": {"datum": 0.2328, "type": "quantitative"}}
        }
      ]
    }
  ]
}
